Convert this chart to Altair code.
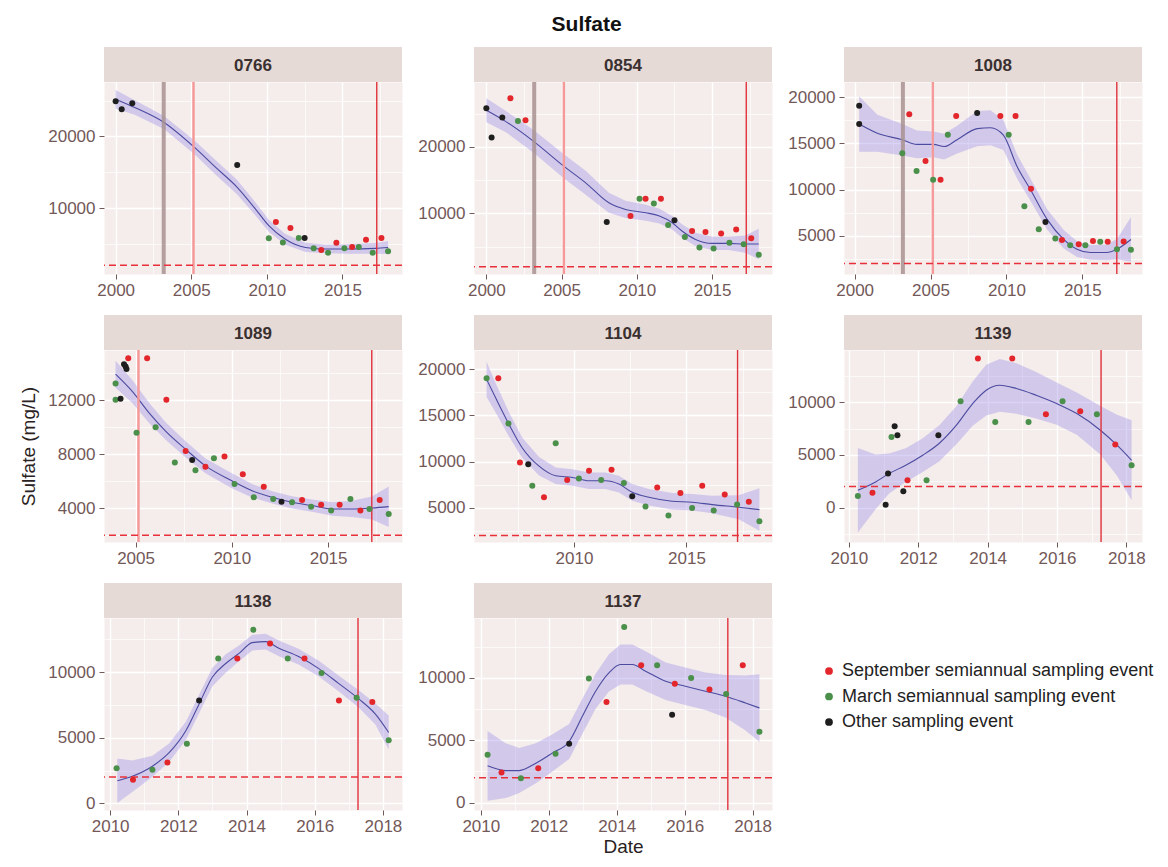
import altair as alt
import pandas as pd

# ---------------- data ----------------
WELLS = ["0766", "0854", "1008", "1089", "1104", "1139", "1138", "1137"]
EVENT_CODES = ["S", "M", "O"]
EVENT_LABELS = ["September semiannual sampling event",
                "March semiannual sampling event",
                "Other sampling event"]
EVENT_COLORS = ["#e3262b", "#4a8f4a", "#1e1e1e"]

# reference lines
HLINE_VALUE = [2000]
VLINE_YEAR = [2003.18, 2005.15, 2017.27]

# ---- observations (decimal year, mg/L, event code) ----
O0766_YEAR = [2000.0, 2000.4, 2001.1, 2008.04, 2010.13, 2010.6, 2011.06, 2011.56, 2012.11, 2012.5,
              2013.1, 2013.6, 2014.05, 2014.6, 2015.13, 2015.64, 2016.08, 2016.56, 2017.0, 2017.58, 2018.02]
O0766_SO4 = [24900, 23800, 24650, 16000, 5770, 8050, 5200, 7200, 5800, 5800,
             4370, 4140, 3770, 5160, 4370, 4560, 4560, 5580, 3770, 5800, 3950]
O0766_EVT = ["O", "O", "O", "O", "M", "S", "M", "S", "M", "O",
             "M", "S", "M", "S", "M", "S", "M", "S", "M", "S", "M"]

O0854_YEAR = [2000.0, 2000.35, 2001.06, 2001.6, 2002.1, 2002.6, 2008.0, 2009.58, 2010.18, 2010.58,
              2011.13, 2011.6, 2012.08, 2012.5, 2013.19, 2013.67, 2014.16, 2014.56, 2015.1, 2015.6,
              2016.15, 2016.6, 2017.1, 2017.6, 2018.1]
O0854_SO4 = [25800, 21400, 24400, 27300, 23900, 24000, 8700, 9600, 12200, 12200,
             11500, 12200, 8260, 8960, 6470, 7360, 4880, 7200, 4730, 6970,
             5600, 7600, 5370, 6270, 3800]
O0854_EVT = ["O", "O", "O", "S", "M", "S", "O", "S", "M", "S",
             "M", "S", "M", "O", "M", "S", "M", "S", "M", "S",
             "M", "S", "M", "S", "M"]

O1008_YEAR = [2000.3, 2000.3, 2003.14, 2003.6, 2004.08, 2004.67, 2005.17, 2005.66, 2006.14, 2006.69,
              2008.07, 2009.6, 2010.15, 2010.6, 2011.18, 2011.62, 2012.13, 2012.57, 2013.22, 2013.66,
              2014.2, 2014.76, 2015.2, 2015.7, 2016.18, 2016.67, 2017.28, 2017.72, 2018.2]
O1008_SO4 = [19070, 17100, 13940, 18170, 12000, 13100, 11070, 11070, 15950, 17960,
             18300, 17960, 15950, 17960, 8200, 10100, 5700, 6500, 4700, 4550,
             3980, 4090, 3980, 4440, 4340, 4340, 3550, 4370, 3480]
O1008_EVT = ["O", "O", "M", "S", "M", "S", "M", "S", "M", "S",
             "O", "S", "M", "S", "M", "S", "M", "O", "M", "S",
             "M", "S", "M", "S", "M", "S", "M", "S", "M"]

O1089_YEAR = [2003.96, 2003.96, 2004.22, 2004.4, 2004.48, 2004.53, 2004.62, 2005.05, 2005.6, 2006.04,
              2006.6, 2007.04, 2007.6, 2007.94, 2008.11, 2008.63, 2009.07, 2009.62, 2010.14, 2010.57,
              2011.14, 2011.66, 2012.15, 2012.58, 2013.13, 2013.65, 2014.12, 2014.64, 2015.16, 2015.6,
              2016.16, 2016.68, 2017.15, 2017.68, 2018.15]
O1089_SO4 = [13250, 12050, 12120, 14670, 14500, 14330, 15120, 9600, 15120, 10000,
             12050, 7390, 8250, 7580, 6820, 7070, 7700, 7830, 5790, 6530,
             4810, 5600, 4690, 4490, 4440, 4610, 4120, 4270, 3830, 4270,
             4690, 3830, 3950, 4610, 3580]
O1089_EVT = ["M", "M", "O", "O", "O", "O", "S", "M", "S", "M",
             "S", "M", "S", "O", "M", "S", "M", "S", "M", "S",
             "M", "S", "M", "O", "M", "S", "M", "S", "M", "S",
             "M", "S", "M", "S", "M"]

O1104_YEAR = [2006.12, 2006.64, 2007.09, 2007.6, 2007.97, 2008.15, 2008.67, 2009.19, 2009.7, 2010.22,
              2010.67, 2011.21, 2011.67, 2012.22, 2012.59, 2013.18, 2013.7, 2014.2, 2014.73, 2015.25,
              2015.7, 2016.21, 2016.7, 2017.25, 2017.77, 2018.24]
O1104_SO4 = [19030, 19030, 14120, 9890, 9710, 7380, 6130, 11970, 7990, 8170,
             9000, 7990, 9100, 7670, 6240, 5130, 7200, 4160, 6600, 4980,
             7380, 4700, 6420, 5340, 5660, 3550]
O1104_EVT = ["M", "S", "M", "S", "O", "M", "S", "M", "S", "M",
             "S", "M", "S", "M", "O", "M", "S", "M", "S", "M",
             "S", "M", "S", "M", "S", "M"]

O1139_YEAR = [2010.26, 2010.68, 2011.06, 2011.13, 2011.23, 2011.32, 2011.4, 2011.57, 2011.69, 2012.24,
              2012.58, 2013.22, 2013.72, 2014.22, 2014.71, 2015.18, 2015.68, 2016.16, 2016.67, 2017.15,
              2017.68, 2018.15]
O1139_SO4 = [1110, 1420, 280, 3230, 6710, 7720, 6870, 1550, 2600, 2600,
             6870, 10100, 14150, 8130, 14150, 8130, 8860, 10100, 9150, 8860,
             5980, 4020]
O1139_EVT = ["M", "S", "O", "O", "M", "O", "O", "O", "S", "M",
             "O", "M", "S", "M", "S", "M", "S", "M", "S", "M",
             "S", "M"]

O1138_YEAR = [2010.19, 2010.67, 2011.24, 2011.68, 2012.25, 2012.61, 2013.17, 2013.73, 2014.2, 2014.69,
              2015.21, 2015.7, 2016.2, 2016.71, 2017.23, 2017.69, 2018.17]
O1138_SO4 = [2670, 1800, 2570, 3110, 4550, 7840, 11050, 11050, 13240, 12190,
             11050, 11050, 9950, 7840, 8050, 7740, 4810]
O1138_EVT = ["M", "S", "M", "S", "M", "O", "M", "S", "M", "S",
             "M", "S", "M", "S", "M", "S", "M"]

O1137_YEAR = [2010.2, 2010.61, 2011.18, 2011.69, 2012.2, 2012.6, 2013.18, 2013.7, 2014.22, 2014.72,
              2015.19, 2015.63, 2015.71, 2016.19, 2016.73, 2017.22, 2017.71, 2018.2]
O1137_SO4 = [3830, 2410, 1960, 2760, 3910, 4720, 9950, 8070, 14080, 11020,
             11020, 7050, 9520, 10000, 9060, 8710, 11020, 5680]
O1137_EVT = ["M", "S", "M", "S", "M", "O", "M", "S", "M", "S",
             "M", "O", "S", "M", "S", "M", "S", "M"]

# ---- loess fit (decimal year, fit mg/L, half band mg/L) ----
S0766_YEAR = [2000.0, 2001.3, 2003.2, 2005.2, 2006.6, 2008.04, 2009.25, 2010.13, 2011.2, 2012.55,
              2013.9, 2015.4, 2017.18, 2018.02]
S0766_FIT = [25200, 24000, 21950, 18500, 15700, 12900, 9860, 7530, 5670, 4500,
             4280, 4280, 4370, 4500]
S0766_SE = [1300, 1000, 900, 950, 1000, 1000, 900, 850, 750, 650,
            600, 650, 750, 900]

S0854_YEAR = [2000.0, 2001.3, 2003.16, 2005.15, 2006.6, 2008.14, 2009.25, 2010.6, 2011.5, 2012.35,
              2013.0, 2013.9, 2015.0, 2016.1, 2017.2, 2018.1]
S0854_FIT = [25500, 23800, 20800, 17100, 14600, 11600, 10600, 10100, 9600, 8600,
             7360, 6100, 5500, 5500, 5400, 5400]
S0854_SE = [1800, 1600, 1700, 1800, 1800, 1500, 1300, 1200, 1100, 1000,
            1000, 1000, 1000, 1000, 1300, 2300]

S1008_YEAR = [2000.3, 2001.5, 2003.14, 2004.1, 2005.2, 2005.9, 2006.75, 2008.07, 2008.95, 2009.8,
              2010.7, 2011.58, 2012.68, 2013.77, 2014.65, 2015.53, 2016.6, 2017.28, 2018.2]
S1008_FIT = [17100, 16100, 15400, 14900, 14900, 14660, 15400, 16600, 16700, 15900,
             12500, 10000, 6770, 4620, 3550, 3190, 3190, 3550, 4600]
S1008_SE = [3000, 2000, 1700, 1500, 1400, 1400, 1500, 1900, 1900, 1600,
            1300, 1200, 1100, 1000, 850, 800, 850, 1100, 2400]

S1089_YEAR = [2003.96, 2004.83, 2005.7, 2006.56, 2007.6, 2008.63, 2010.0, 2011.05, 2012.1, 2013.13,
              2014.17, 2015.2, 2016.25, 2017.28, 2018.15]
S1089_FIT = [13940, 12660, 11070, 9720, 8370, 7140, 6040, 5300, 4810, 4440,
             4200, 3950, 3950, 4020, 4120]
S1089_SE = [1000, 850, 750, 650, 600, 550, 550, 500, 450, 450,
            450, 500, 600, 850, 1500]

S1104_YEAR = [2006.12, 2006.52, 2007.12, 2007.7, 2008.45, 2009.19, 2009.93, 2010.67, 2011.4, 2012.0,
              2012.59, 2013.33, 2014.36, 2015.25, 2016.14, 2017.32, 2018.24]
S1104_FIT = [18900, 16900, 14000, 11500, 9500, 8460, 8280, 7920, 7920, 7560,
             6670, 6130, 5700, 5600, 5340, 5050, 4800]
S1104_SE = [1900, 1600, 1300, 1100, 1000, 900, 900, 900, 900, 900,
            900, 900, 900, 900, 950, 1300, 2300]

S1139_YEAR = [2010.26, 2010.77, 2011.16, 2011.64, 2012.13, 2012.6, 2013.1, 2013.57, 2013.96, 2014.35,
              2014.83, 2015.4, 2015.99, 2016.57, 2017.25, 2017.73, 2018.15]
S1139_FIT = [1650, 2440, 3230, 4020, 4970, 6080, 7820, 9870, 11140, 11600,
             11300, 10660, 9870, 8920, 7340, 5920, 4490]
S1139_SE = [4000, 2600, 1900, 1600, 1600, 1700, 1800, 2100, 2400, 2500,
            2400, 2200, 2000, 2000, 2300, 2900, 3800]

S1138_YEAR = [2010.21, 2010.65, 2011.24, 2011.73, 2012.22, 2012.61, 2013.0, 2013.39, 2013.78, 2014.17,
              2014.56, 2014.95, 2015.54, 2016.12, 2016.71, 2017.29, 2017.78, 2018.17]
S1138_FIT = [1720, 2060, 2830, 3860, 5530, 7580, 9640, 10670, 11440, 12260,
             12340, 11830, 11180, 10280, 9130, 7970, 6810, 5400]
S1138_SE = [1700, 1200, 800, 700, 700, 700, 700, 700, 600, 600,
            600, 600, 600, 600, 600, 650, 800, 1300]

S1137_YEAR = [2010.2, 2010.73, 2011.13, 2011.62, 2012.1, 2012.6, 2012.99, 2013.38, 2013.77, 2014.11,
              2014.46, 2014.85, 2015.44, 2016.02, 2016.61, 2017.2, 2017.79, 2018.2]
S1137_FIT = [2950, 2570, 2570, 3160, 3970, 4900, 6920, 8930, 10400, 11070,
             11070, 10540, 9730, 9330, 8930, 8530, 7990, 7590]
S1137_SE = [2800, 2200, 1800, 1600, 1500, 1400, 1400, 1400, 1500, 1600,
            1600, 1600, 1500, 1500, 1500, 1700, 2200, 2700]

# ---- axis limits and breaks per panel ----
XLIM = {"0766": [1999.23, 2018.94], "0854": [1999.18, 2018.98], "1008": [1999.3, 2018.93],
        "1089": [2003.36, 2018.84], "1104": [2005.56, 2018.8], "1139": [2009.86, 2018.45],
        "1138": [2009.82, 2018.56], "1137": [2009.8, 2018.57]}
YLIM = {"0766": [790, 27600], "0854": [900, 29750], "1008": [860, 21650],
        "1089": [1500, 15730], "1104": [1290, 22080], "1139": [-3260, 14950],
        "1138": [-510, 14140], "1137": [-590, 14800]}
XT_5 = [2000, 2005, 2010, 2015]
XT_5_MINOR = [2002.5, 2007.5, 2012.5, 2017.5]
XT_2 = [2010, 2012, 2014, 2016, 2018]
XT_2_MINOR = [2011, 2013, 2015, 2017]
YT_10K = [10000, 20000]
YT_10K_MINOR = [5000, 15000, 25000]
YT_5K = [0, 5000, 10000, 15000, 20000]
YT_5K_MINOR = [-2500, 2500, 7500, 12500, 17500]
YT_4K = [4000, 8000, 12000]
YT_4K_MINOR = [2000, 6000, 10000, 14000]

# ---------------- styling ----------------
W, H, STRIP_H = 298, 192, 35
PANEL_BG = "#f4edeb"
STRIP_FILL = "#e6dad6"
STRIP_TXT = "#3a3030"
AXIS_TXT = "#735858"
BAND_FILL = "#9b8ce8"
LINE_COL = "#4b4ba0"
FONT = "Liberation Sans"

OBS = {"0766": (O0766_YEAR, O0766_SO4, O0766_EVT), "0854": (O0854_YEAR, O0854_SO4, O0854_EVT),
       "1008": (O1008_YEAR, O1008_SO4, O1008_EVT), "1089": (O1089_YEAR, O1089_SO4, O1089_EVT),
       "1104": (O1104_YEAR, O1104_SO4, O1104_EVT), "1139": (O1139_YEAR, O1139_SO4, O1139_EVT),
       "1138": (O1138_YEAR, O1138_SO4, O1138_EVT), "1137": (O1137_YEAR, O1137_SO4, O1137_EVT)}
SMOOTH = {"0766": (S0766_YEAR, S0766_FIT, S0766_SE), "0854": (S0854_YEAR, S0854_FIT, S0854_SE),
          "1008": (S1008_YEAR, S1008_FIT, S1008_SE), "1089": (S1089_YEAR, S1089_FIT, S1089_SE),
          "1104": (S1104_YEAR, S1104_FIT, S1104_SE), "1139": (S1139_YEAR, S1139_FIT, S1139_SE),
          "1138": (S1138_YEAR, S1138_FIT, S1138_SE), "1137": (S1137_YEAR, S1137_FIT, S1137_SE)}
XBREAKS = {w: (XT_5, XT_5_MINOR) for w in ["0766", "0854", "1008", "1089", "1104"]}
XBREAKS.update({w: (XT_2, XT_2_MINOR) for w in ["1139", "1138", "1137"]})
YBREAKS = {"0766": (YT_10K, YT_10K_MINOR), "0854": (YT_10K, YT_10K_MINOR),
           "1008": (YT_5K, YT_5K_MINOR), "1089": (YT_4K, YT_4K_MINOR),
           "1104": (YT_5K, YT_5K_MINOR), "1139": (YT_5K, YT_5K_MINOR),
           "1138": (YT_5K, YT_5K_MINOR), "1137": (YT_5K, YT_5K_MINOR)}
VLINE_STYLE = [("#a89090", 4, 0.85), ("#f59a9a", 2.5, 1.0), ("#e0323c", 1.4, 1.0)]

EVENT_NAME = dict(zip(EVENT_CODES, EVENT_LABELS))

LEGEND = alt.Legend(title=None, orient="none", legendX=716, legendY=580,
                    labelFontSize=18, labelColor="#222222", labelFont=FONT,
                    symbolType="circle", symbolSize=60, symbolStrokeWidth=0,
                    rowPadding=7.5, padding=0, labelLimit=600)


def in_range(v, lim):
    return lim[0] <= v <= lim[1]


def build_panel(w):
    xlim, ylim = XLIM[w], YLIM[w]
    xmaj, xmin = XBREAKS[w]
    ymaj, ymin = YBREAKS[w]
    xmaj = [v for v in xmaj if in_range(v, xlim)]
    xmin = [v for v in xmin if in_range(v, xlim)]
    ymaj = [v for v in ymaj if in_range(v, ylim)]
    ymin = [v for v in ymin if in_range(v, ylim)]

    yrs, so4, evt = OBS[w]
    pts = pd.DataFrame({"year": yrs, "so4": so4, "event": [EVENT_NAME[c] for c in evt]})
    syr, sfit, sse = SMOOTH[w]
    sm = pd.DataFrame({"year": syr, "fit": sfit, "se": sse})
    sm["lo"] = sm["fit"] - sm["se"]
    sm["hi"] = sm["fit"] + sm["se"]

    xs = alt.Scale(domain=xlim, nice=False, zero=False)
    ys = alt.Scale(domain=ylim, nice=False, zero=False)

    minor_x = alt.Axis(values=xmin, grid=True, gridColor="white", gridWidth=0.7,
                       labels=False, ticks=False, domain=False, title=None, orient="bottom")
    minor_y = alt.Axis(values=ymin, grid=True, gridColor="white", gridWidth=0.7,
                       labels=False, ticks=False, domain=False, title=None, orient="left")

    x_kw = dict(values=xmaj, format="d", grid=True, gridColor="white", gridWidth=1.4,
                domain=False, ticks=True, tickSize=5, tickColor=AXIS_TXT, tickWidth=1,
                labelColor=AXIS_TXT, labelFontSize=17, labelFont=FONT, labelPadding=3,
                labelFlush=False, orient="bottom")
    if w == "1137":
        x_kw.update(title="Date", titleFontSize=19, titleFont=FONT, titleColor="#2a2222",
                    titleFontWeight="normal", titlePadding=3)
    else:
        x_kw.update(title=None)
    y_kw = dict(values=ymaj, format="d", grid=True, gridColor="white", gridWidth=1.4,
                domain=False, ticks=True, tickSize=5, tickColor=AXIS_TXT, tickWidth=1,
                labelColor=AXIS_TXT, labelFontSize=17, labelFont=FONT, labelPadding=4,
                orient="left")
    if w == "1089":
        y_kw.update(title="Sulfate (mg/L)", titleFontSize=19, titleFont=FONT,
                    titleColor="#2a2222", titleFontWeight="normal", titlePadding=9)
    else:
        y_kw.update(title=None)

    band = alt.Chart(sm).mark_area(color=BAND_FILL, opacity=0.38, clip=True).encode(
        x=alt.X("year:Q", scale=xs, axis=minor_x),
        y=alt.Y("lo:Q", scale=ys, axis=minor_y),
        y2="hi:Q",
    )
    line = alt.Chart(sm).mark_line(color=LINE_COL, strokeWidth=1.1, interpolate="monotone",
                                   clip=True).encode(
        x=alt.X("year:Q", scale=xs, axis=None),
        y=alt.Y("fit:Q", scale=ys, axis=None),
    )
    hline = alt.Chart(pd.DataFrame({"v": HLINE_VALUE})).mark_rule(
        color="#e8303a", strokeWidth=1.5, strokeDash=[7, 4]).encode(
        y=alt.Y("v:Q", scale=ys, axis=None))
    vlines = []
    for yv, (col, sw, op) in zip(VLINE_YEAR, VLINE_STYLE):
        if in_range(yv, xlim):
            vlines.append(alt.Chart(pd.DataFrame({"year": [yv]})).mark_rule(
                color=col, strokeWidth=sw, opacity=op).encode(
                x=alt.X("year:Q", scale=xs, axis=None)))
    points = alt.Chart(pts).mark_circle(size=36, opacity=1).encode(
        x=alt.X("year:Q", scale=xs, axis=alt.Axis(**x_kw)),
        y=alt.Y("so4:Q", scale=ys, axis=alt.Axis(**y_kw)),
        color=alt.Color("event:N", scale=alt.Scale(domain=EVENT_LABELS, range=EVENT_COLORS),
                        legend=LEGEND),
    )
    sdf = pd.DataFrame({"label": [w]})
    strip = alt.Chart(sdf).mark_rect(color=STRIP_FILL).encode(
        x=alt.value(0), x2=alt.value(W), y=alt.value(-STRIP_H), y2=alt.value(0))
    strip_txt = alt.Chart(sdf).mark_text(fontSize=17, fontWeight="bold", color=STRIP_TXT,
                                         font=FONT, baseline="middle", align="center").encode(
        x=alt.value(W / 2), y=alt.value(-STRIP_H / 2 + 1), text="label:N")

    return alt.layer(band, line, *vlines, hline, points, strip, strip_txt).resolve_axis(
        x="independent", y="independent").properties(width=W, height=H)


panels = [build_panel(w) for w in WELLS]

chart = alt.concat(
    *panels, columns=3, spacing={"row": 15, "column": 13}, align="each",
    title=alt.TitleParams("Sulfate", fontSize=21, fontWeight="bold", font=FONT,
                          anchor="middle", color="#111111", offset=12),
    padding={"left": 11, "top": 5, "right": 2, "bottom": 0},
).configure(font=FONT).configure_view(fill=PANEL_BG, stroke="transparent")

chart.save("out.html", embed_options={"renderer": "svg", "actions": False})
